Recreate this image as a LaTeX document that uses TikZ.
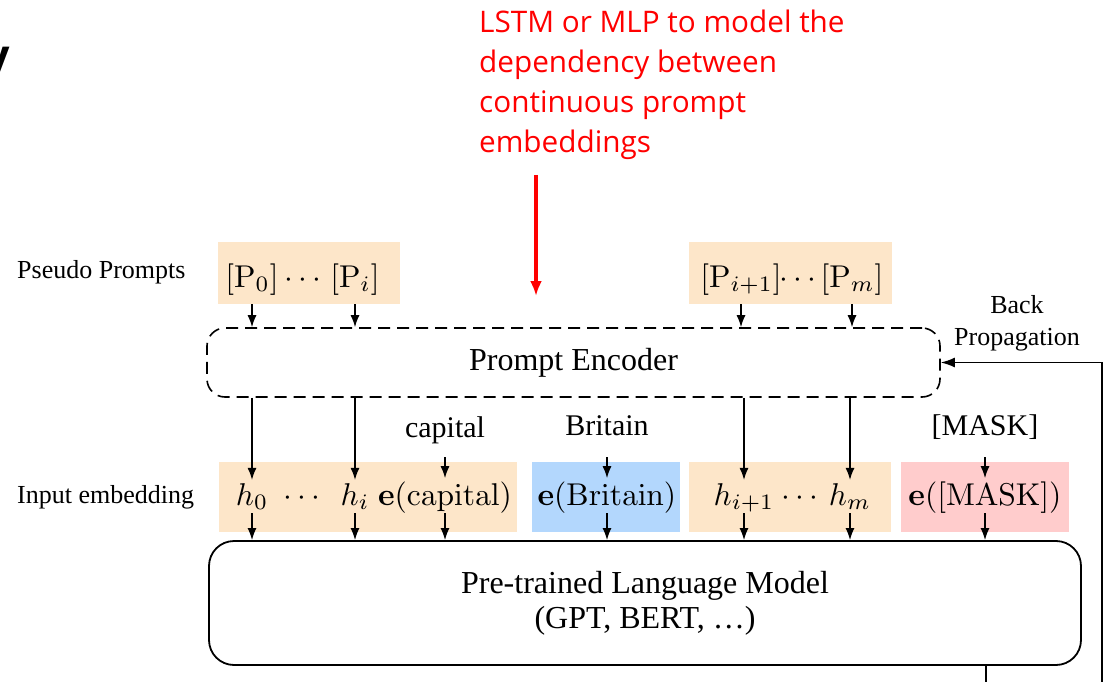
\RequirePackage{fix-cm}
\documentclass[tikz,border=0pt]{standalone}
\usepackage[no-math]{fontspec}
\newfontfamily\tms{Liberation Serif}
\newfontfamily\redfont{Open Sans}
\newfontfamily\fragfont{Liberation Sans}
\usetikzlibrary{arrows.meta}
\definecolor{peach}{RGB}{253,230,201}
\definecolor{skyb}{RGB}{179,215,253}
\definecolor{pinkb}{RGB}{255,204,204}
\definecolor{redtxt}{RGB}{255,0,0}
\newcommand\SM[1]{\scalebox{3.15}{$#1$}}
\tikzset{
  lbl/.style={font=\tms\fontsize{26}{30}\selectfont, inner sep=0pt},
  tok/.style={font=\tms\fontsize{30}{34}\selectfont, inner sep=0pt},
  mth/.style={font=\fontsize{10}{12}\selectfont, inner sep=3pt},
  dts/.style={font=\fontsize{10}{12}\selectfont, inner sep=0pt},
  bgbox/.style={draw=none, inner sep=0pt, minimum height=#1},
  arr/.style={-{Latex[length=12pt,width=9pt]}, line width=1.4pt},
  bigarr/.style={-{Latex[length=14pt,width=10pt]}, line width=1.6pt},
  redarr/.style={-{Latex[length=15pt,width=12pt]}, line width=3.5pt, draw=redtxt},
}
\begin{document}
\begin{tikzpicture}[x=1pt,y=-1pt]
\useasboundingbox (0,0) rectangle (1106,682);

% fragment of slide title at the left edge
\node[font=\fragfont\bfseries\fontsize{48}{50}\selectfont, anchor=base east, inner sep=0pt] (frag) at (10,73) {y};

% red annotation
\node[font=\redfont\fontsize{29.7}{40}\selectfont, text=redtxt, align=left, anchor=north west, inner sep=0pt] (note) at (479,10)
  {LSTM or MLP to model the\\dependency between\\continuous prompt\\embeddings};
\coordinate (rtail) at (536,175);
\coordinate (rtip) at (536,296);
\draw[redarr] (rtail) -- (rtip);

% row labels
\node[lbl, anchor=base west] (pplbl) at (17,278) {Pseudo Prompts};
\node[lbl, anchor=base west] (inlbl) at (17,503) {Input embedding};

% pseudo prompt boxes
\node[bgbox=62pt, fill=peach, minimum width=182pt] (pb1) at (309,273) {};
\node[bgbox=62pt, fill=peach, minimum width=203pt] (pb2) at (790.5,273) {};
\node[mth, anchor=base] (P0) at (252,287) {\SM{[\mathrm{P}_0]}};
\node[dts, anchor=base] (Pd1) at (303,287) {\SM{\cdots}};
\node[mth, anchor=base] (Pi) at (355,287) {\SM{[\mathrm{P}_i]}};
\node[mth, anchor=base] (Pi1) at (741,287) {\SM{[\mathrm{P}_{i+1}]}};
\node[dts, anchor=base] (Pd2) at (798,287) {\SM{\cdots}};
\node[mth, anchor=base] (Pm) at (852,287) {\SM{[\mathrm{P}_m]}};

% prompt encoder
\node[draw, dash pattern=on 12pt off 7pt, line width=1.6pt, rounded corners=18pt,
      minimum width=733pt, minimum height=69pt, inner sep=0pt,
      font=\tms\fontsize{32}{36}\selectfont] (enc) at (573.5,362.5) {Prompt Encoder};

\node[lbl, align=center, font=\tms\fontsize{26}{32}\selectfont] (bp) at (1017,323) {Back\\Propagation};

% input embedding boxes
\node[bgbox=70pt, fill=peach, minimum width=298pt] (ebA) at (368,497) {};
\node[bgbox=70pt, fill=skyb, minimum width=148pt] (ebB) at (606,497) {};
\node[bgbox=70pt, fill=peach, minimum width=202pt] (ebC) at (790,497) {};
\node[bgbox=70pt, fill=pinkb, minimum width=168pt] (ebD) at (985,497) {};

\node[mth, anchor=base] (h0) at (252,505) {\SM{h_0}};
\node[dts, anchor=base] (hd1) at (302,505) {\SM{\cdots}};
\node[mth, anchor=base] (hi) at (355,505) {\SM{h_i}};
\node[mth, anchor=base] (ecap) at (445,505) {\SM{\mathbf{e}(\mathrm{capital})}};
\node[mth, anchor=base] (ebri) at (607,505) {\SM{\mathbf{e}(\mathrm{Britain})}};
\node[mth, anchor=base] (hi1) at (744,505) {\SM{h_{i+1}}};
\node[dts, anchor=base] (hd2) at (800,505) {\SM{\cdots}};
\node[mth, anchor=base] (hm) at (850,505) {\SM{h_m}};
\node[mth, anchor=base] (emask) at (985,505) {\SM{\mathbf{e}([\mathrm{MASK}])}};

% token labels
\node[tok, anchor=base] (cap) at (445,437) {capital};
\node[tok, anchor=base] (bri) at (607,435) {Britain};
\node[tok, anchor=base] (msk) at (985,435) {[MASK]};

% language model
\node[draw, line width=1.8pt, rounded corners=25pt, minimum width=872pt, minimum height=124pt,
      inner sep=0pt, align=center, font=\tms\fontsize{32}{35}\selectfont] (lm) at (645,603)
      {Pre-trained Language Model\\(GPT, BERT, \dots)};

% arrows: pseudo prompts -> encoder
\foreach \n in {P0,Pi} \draw[arr] (\n |- pb1.south) -- (\n |- enc.north);
\foreach \n in {Pi1,Pm} \draw[arr] (\n |- pb2.south) -- (\n |- enc.north);

% encoder -> hidden
\foreach \n in {h0,hi,hi1,hm} \draw[arr] (\n |- enc.south) -- (\n.north);

% token labels -> embeddings
\draw[arr] ([yshift=-20pt]cap.base) -- (ecap.north);
\draw[arr] ([yshift=-22pt]bri.base) -- (ebri.north);
\draw[arr] ([yshift=-22pt]msk.base) -- (emask.north);

% embeddings -> LM
\foreach \n in {h0,hi,ecap,ebri,hi1,hm,emask} \draw[arr] ([yshift=-8pt]\n.base) -- (\n |- lm.north);

% back propagation loop
\coordinate (lmout) at (986,690);
\coordinate (bpin) at (1102,690);
\draw[line width=1.6pt] (lmout |- lm.south) -- (lmout);
\draw[bigarr] (bpin) |- (enc.east);
\end{tikzpicture}
\end{document}
